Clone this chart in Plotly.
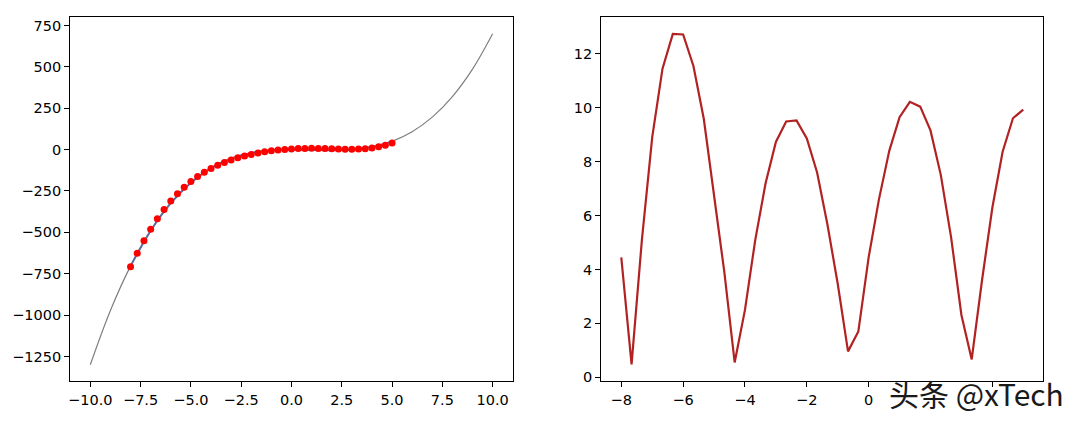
import plotly.graph_objects as go

# ---- data ----
curve_x = [-10, -9, -8, -7, -6, -5, -4, -3, -2, -1, 0, 1, 2, 3, 4, 5, 6, 7, 8, 9, 10]
curve_y = [-1300, -972, -704, -490, -324, -200, -112, -54, -20, -4, 0, -2, -4, 0, 16, 50, 108, 196, 320, 486, 700]

fit_x = [-8, -7, -6, -5, -4, -3, -2, -1, 0, 1, 2, 3, 4, 5]
fit_y = [-704, -490, -324, -200, -112, -54, -20, -4, 0, -2, -4, 0, 16, 50]

pts_x = [-8.0, -7.667, -7.333, -7.0, -6.667, -6.333, -6.0, -5.667, -5.333, -5.0,
         -4.667, -4.333, -4.0, -3.667, -3.333, -3.0, -2.667, -2.333, -2.0, -1.667,
         -1.333, -1.0, -0.667, -0.333, 0.0, 0.333, 0.667, 1.0, 1.333, 1.667,
         2.0, 2.333, 2.667, 3.0, 3.333, 3.667, 4.0, 4.333, 4.667, 5.0]
pts_y = [-708.5, -626.5, -550.6, -481.1, -418.2, -361.6, -311.3, -266.7, -227.4, -193.2,
         -163.1, -137.1, -114.5, -94.7, -77.6, -62.7, -49.8, -38.5, -28.9, -20.6,
         -13.4, -7.5, -2.6, 1.3, 4.4, 6.3, 7.4, 7.6, 7.2, 6.3,
         5.1, 3.9, 2.8, 2.3, 4.4, 5.4, 9.7, 16.7, 26.7, 40.1]

res_y = [4.45, 0.48, 5.1, 8.9, 11.45, 12.74, 12.72, 11.55, 9.6, 6.8,
         3.9, 0.55, 2.5, 5.1, 7.2, 8.73, 9.49, 9.53, 8.86, 7.6,
         5.67, 3.47, 0.96, 1.7, 4.45, 6.6, 8.4, 9.65, 10.22, 10.04,
         9.16, 7.51, 5.19, 2.31, 0.66, 3.6, 6.29, 8.37, 9.61, 9.93]

lx_ticks = [-10, -7.5, -5, -2.5, 0, 2.5, 5, 7.5, 10]
lx_text = ["−10.0", "−7.5", "−5.0", "−2.5", "0.0", "2.5", "5.0", "7.5", "10.0"]
ly_ticks = [-1250, -1000, -750, -500, -250, 0, 250, 500, 750]
ly_text = ["−1250", "−1000", "−750", "−500", "−250", "0", "250", "500", "750"]
rx_ticks = [-8, -6, -4, -2, 0, 2, 4]
rx_text = ["−8", "−6", "−4", "−2", "0", "", ""]   # 2 and 4 are hidden under the watermark
ry_ticks = [0, 2, 4, 6, 8, 10, 12]
ry_text = ["0", "2", "4", "6", "8", "10", "12"]

OFF = 8           # browser body margin
W, H = 1077 - 2 * OFF, 423 - 2 * OFF


def px(v):
    return (v - OFF) / W


def py(v):
    return 1 - (v - OFF) / H


fig = go.Figure()
fig.add_trace(go.Scatter(x=curve_x, y=curve_y, mode="lines", line=dict(color="#7f7f7f", width=1.2, shape="spline"),
                         xaxis="x", yaxis="y", showlegend=False))
fig.add_trace(go.Scatter(x=fit_x, y=fit_y, mode="lines", line=dict(color="#5f6b9c", width=2, shape="spline"),
                         xaxis="x", yaxis="y", showlegend=False))
fig.add_trace(go.Scatter(x=pts_x, y=pts_y, mode="markers", marker=dict(color="#ff0000", size=7),
                         xaxis="x", yaxis="y", showlegend=False))
fig.add_trace(go.Scatter(x=pts_x, y=res_y, mode="lines", line=dict(color="#b22222", width=2.2),
                         xaxis="x2", yaxis="y2", showlegend=False))

yd = [py(385), py(17.3)]
axis_common = dict(showgrid=False, zeroline=False, showline=True, mirror=True, linecolor="black", linewidth=1,
                   ticks="outside", ticklen=5, tickcolor="black",
                   tickfont=dict(family="DejaVu Sans", size=14.5, color="black"))

fig.update_layout(
    width=W, height=H,
    margin=dict(l=0, r=0, t=0, b=0),
    paper_bgcolor="white", plot_bgcolor="white",
    xaxis=dict(domain=[px(68.3), px(511.7)], range=[-11, 11], tickvals=lx_ticks, ticktext=lx_text, anchor="y", **axis_common),
    yaxis=dict(domain=yd, range=[-1400, 800], tickvals=ly_ticks, ticktext=ly_text, anchor="x", **axis_common),
    xaxis2=dict(domain=[px(600.3), px(1043.3)], range=[-8.65, 5.65], tickvals=rx_ticks, ticktext=rx_text, anchor="y2", **axis_common),
    yaxis2=dict(domain=yd, range=[-0.15, 13.36], tickvals=ry_ticks, ticktext=ry_text, anchor="x2", **axis_common),
)

fig.add_annotation(text="头条 @xTech", xref="paper", yref="paper", x=px(1066), y=py(397),
                   xanchor="right", yanchor="middle", showarrow=False,
                   font=dict(family="Noto Sans CJK SC", size=30, color="#1a1a1a"))

fig.write_html("out.html")
